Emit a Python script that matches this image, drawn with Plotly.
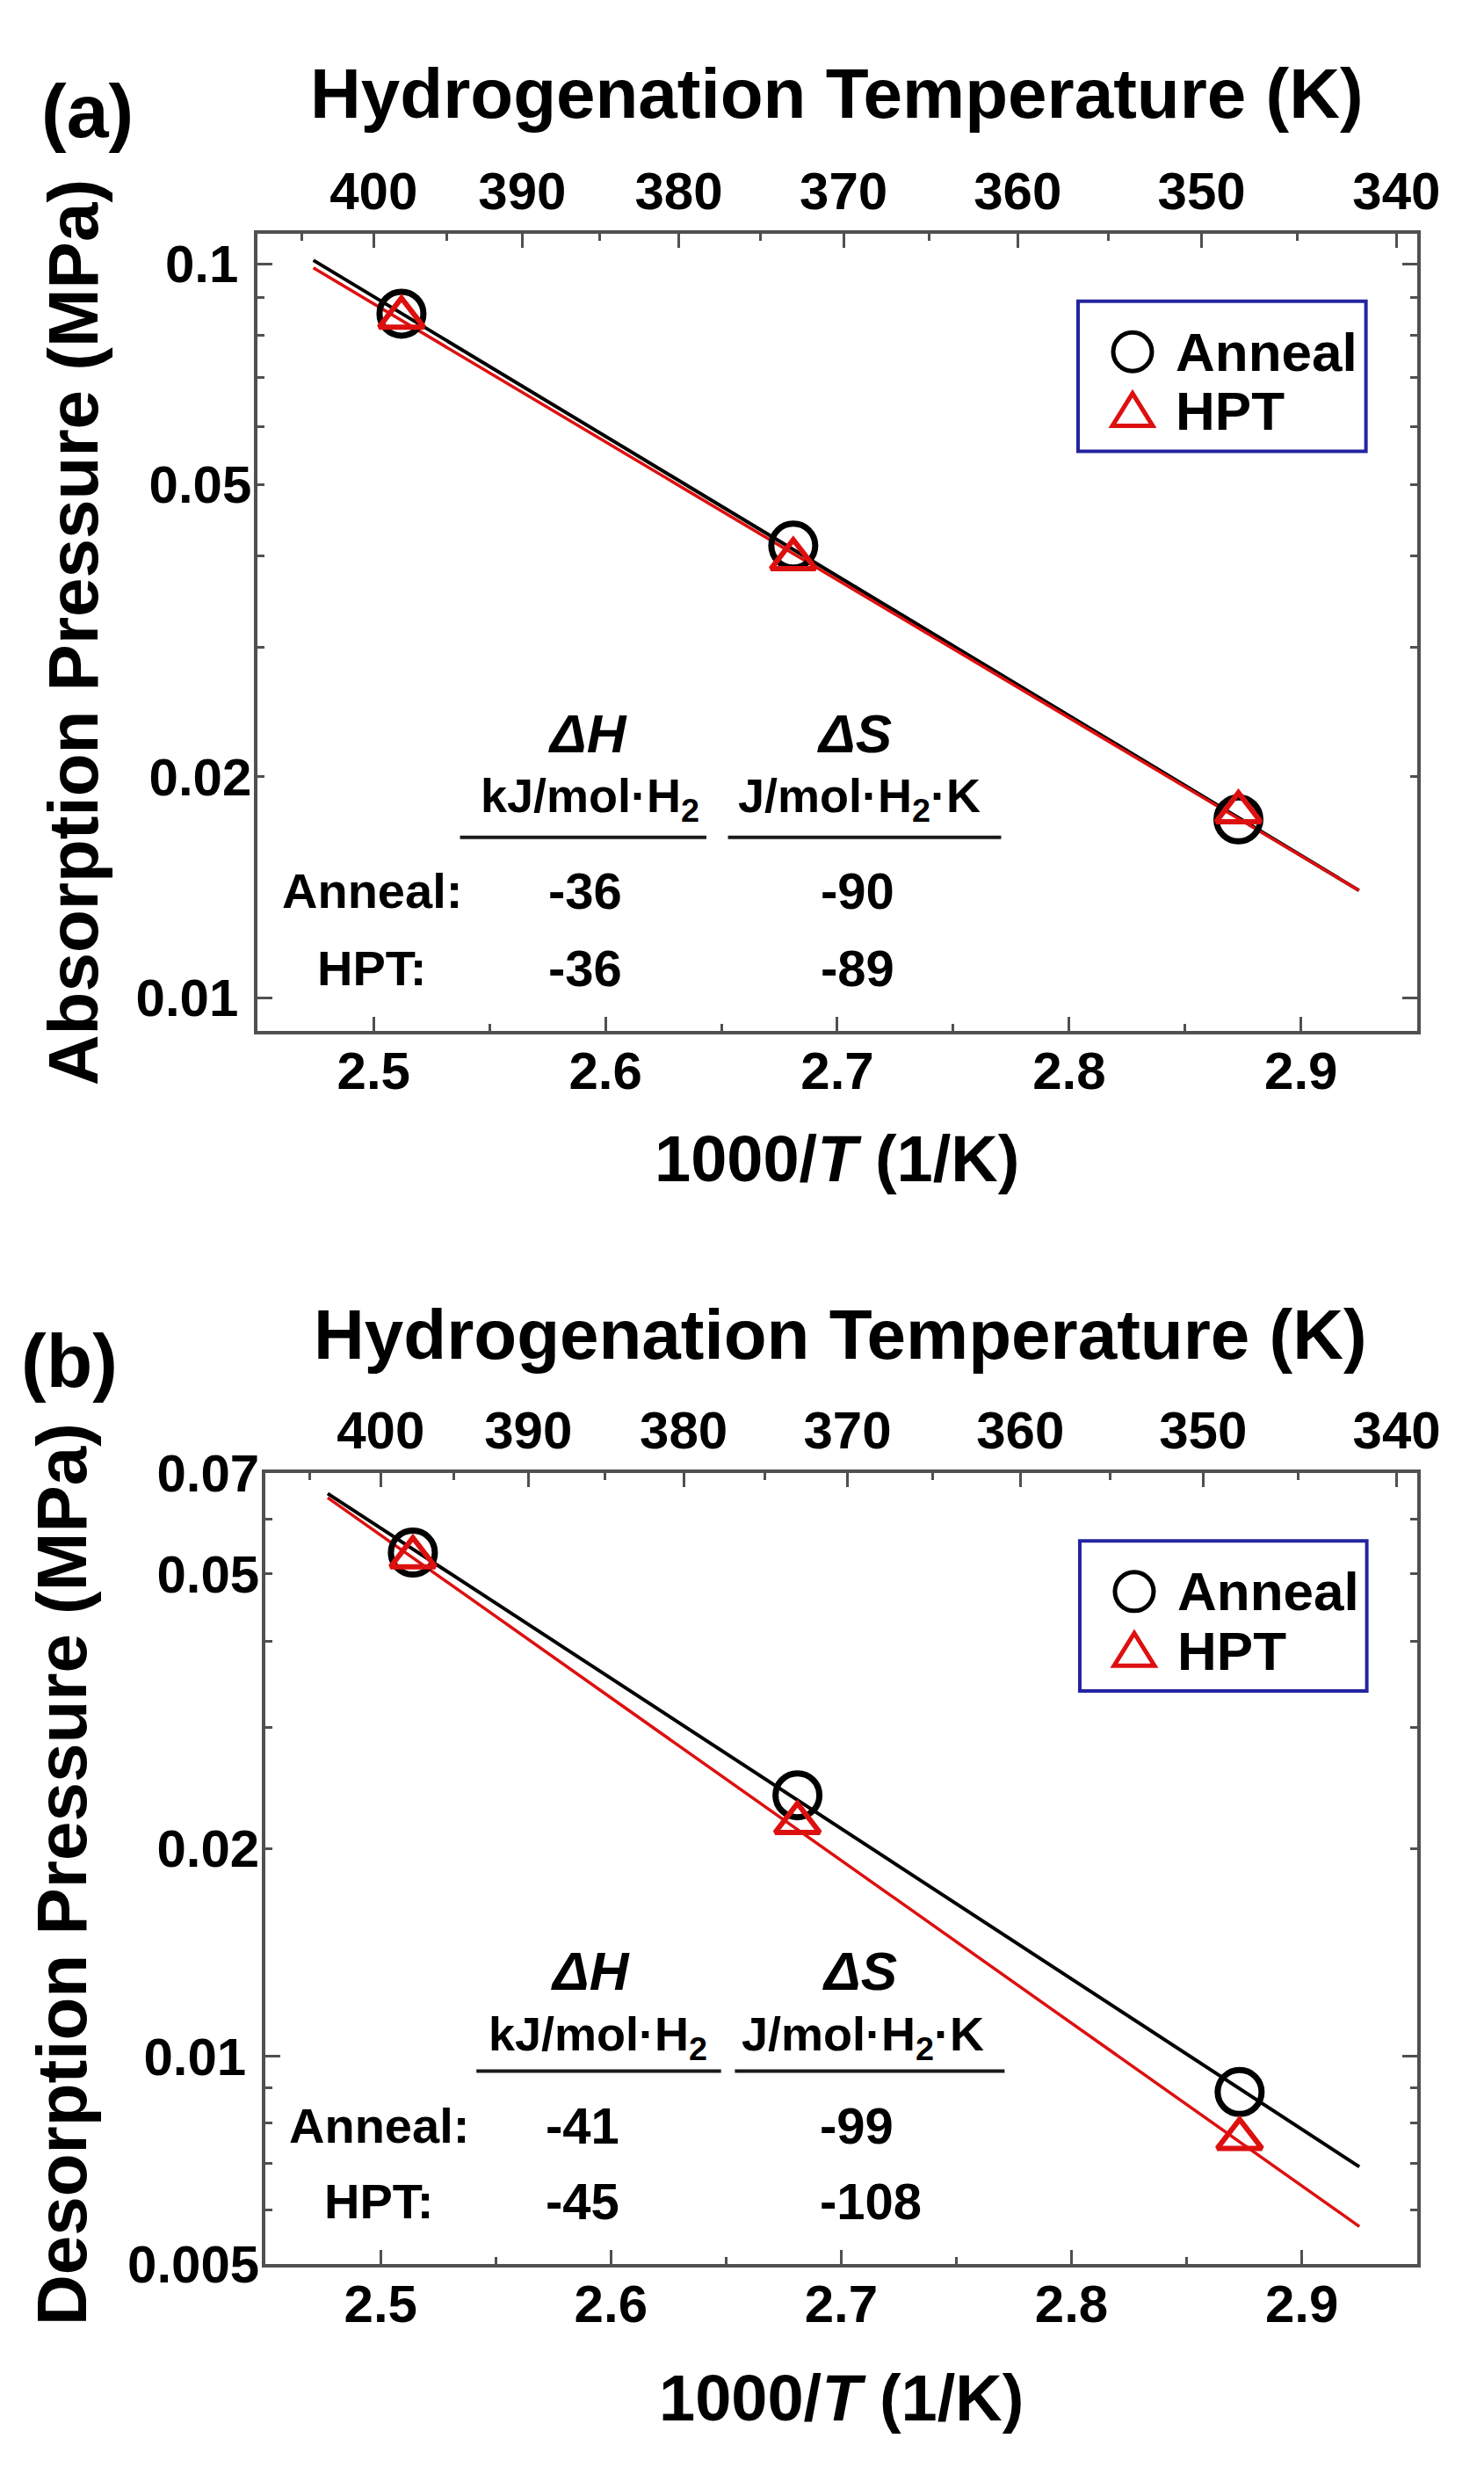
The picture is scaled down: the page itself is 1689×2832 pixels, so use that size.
import math
import plotly.graph_objects as go

# ---- data: x = 1000/T (1/K), y = pressure (MPa) ----
inv_t_abs = [2.512, 2.681, 2.873]
p_abs_anneal = [0.0855, 0.0413, 0.0175]
p_abs_hpt = [0.0845, 0.0396, 0.0179]
fit_x_abs = [2.474, 2.925]
fit_abs_anneal = [0.1011, 0.0140]
fit_abs_hpt = [0.0987, 0.0140]

inv_t_des = [2.514, 2.681, 2.873]
p_des_anneal = [0.0537, 0.0239, 0.00888]
p_des_hpt = [0.0529, 0.0218, 0.0076]
fit_x_des = [2.477, 2.925]
fit_des_anneal = [0.0654, 0.00692]
fit_des_hpt = [0.0645, 0.00567]

# thermodynamic table
row_names = ["Anneal:", "HPT:"]
dh_abs = ["-36", "-36"]
ds_abs = ["-90", "-89"]
dh_des = ["-41", "-45"]
ds_des = ["-99", "-108"]

# axis ticks
x_ticks = [2.5, 2.6, 2.7, 2.8, 2.9]
x_minor = [2.55, 2.65, 2.75, 2.85]
temp_ticks = [400, 390, 380, 370, 360, 350, 340]
temp_minor = [405, 395, 385, 375, 365, 355, 345]
abs_major = [0.01, 0.1]
abs_labels = [0.02, 0.05]
abs_minor = [0.02, 0.03, 0.04, 0.05, 0.06, 0.07, 0.08, 0.09]
des_major = [0.01]
des_labels = [0.005, 0.02, 0.05, 0.07]
des_minor = [0.006, 0.007, 0.008, 0.009, 0.02, 0.03, 0.04, 0.05, 0.06]

W, H, OFF = 1673, 2816, 8
FONT = "Arial, Liberation Sans, sans-serif"
RED = "#dd1010"
FRAME = "#505050"
BLUE = "#2424a0"


def fx(p):
    return (p - OFF) / W


def fy(p):
    return 1 - (p - OFF) / H


def fmt(v):
    return ("%g" % v)


panels = [
    dict(tag="(a)", ylabel="Absorption Pressure (MPa)",
         frame=(298, 1639, 238, 1168), lab=(101, 95), title=(968, 75),
         ytitle=(85, 703), xtitle=(968, 1317),
         legbox=(1247, 317, 1580, 492), legsym=1310, legtext=1358, legy=(376, 445),
         head_y=821, unit_y=897, head_x=(680, 988), unit_x=(682, 994),
         line_y=942, line1=(532, 817), line2=(842, 1158),
         row_x=430, row_y=(1004, 1094), dh_x=632, ds_x=947,
         x=inv_t_abs, anneal=p_abs_anneal, hpt=p_abs_hpt,
         fx_=fit_x_abs, fa=fit_abs_anneal, fh=fit_abs_hpt,
         yr=(0.009, 0.11), major=abs_major, labels=abs_labels, minor=abs_minor,
         dh=dh_abs, ds=ds_abs),
    dict(tag="(b)", ylabel="Desorption Pressure (MPa)",
         frame=(307, 1639, 1683, 2605), lab=(80, 1552), title=(972, 1521),
         ytitle=(71, 2150), xtitle=(973, 2761),
         legbox=(1249, 1762, 1581, 1937), legsym=1312, legtext=1360, legy=(1821, 1890),
         head_y=2263, unit_y=2340, head_x=(683, 994), unit_x=(692, 998),
         line_y=2380, line1=(551, 834), line2=(850, 1162),
         row_x=438, row_y=(2443, 2532), dh_x=629, ds_x=946,
         x=inv_t_des, anneal=p_des_anneal, hpt=p_des_hpt,
         fx_=fit_x_des, fa=fit_des_anneal, fh=fit_des_hpt,
         yr=(0.005, 0.07), major=des_major, labels=des_labels, minor=des_minor,
         dh=dh_des, ds=ds_des),
]

fig = go.Figure()
layout = dict(width=W, height=H, margin=dict(l=0, r=0, t=0, b=0),
              paper_bgcolor="white", plot_bgcolor="white", showlegend=False,
              font=dict(family=FONT, color="black", weight="bold"))
annotations = []
shapes = []

tick_font = dict(family=FONT, size=60, color="black", weight="bold")
axis_common = dict(showgrid=False, zeroline=False, showline=True, linecolor=FRAME,
                   linewidth=4, ticks="inside", tickcolor=FRAME, tickwidth=3,
                   tickfont=tick_font)

for i, p in enumerate(panels):
    n = 2 * i + 1
    xb, xt = "x%d" % n, "x%d" % (n + 1)
    ym, yl = "y%d" % n, "y%d" % (n + 1)
    xb_key = "xaxis" if n == 1 else "xaxis%d" % n
    ym_key = "yaxis" if n == 1 else "yaxis%d" % n
    xb_ref = "x" if n == 1 else xb
    ym_ref = "y" if n == 1 else ym
    l, r, t, b = p["frame"]
    yrange = [math.log10(p["yr"][0]), math.log10(p["yr"][1])]

    # fitted lines and points
    fig.add_trace(go.Scatter(x=p["fx_"], y=p["fa"], mode="lines",
                             line=dict(color="black", width=4),
                             xaxis=xb_ref, yaxis=ym_ref))
    fig.add_trace(go.Scatter(x=p["fx_"], y=p["fh"], mode="lines",
                             line=dict(color=RED, width=3.5),
                             xaxis=xb_ref, yaxis=ym_ref))
    fig.add_trace(go.Scatter(x=p["x"], y=p["anneal"], mode="markers", name="Anneal",
                             marker=dict(symbol="circle-open", size=50, color="black",
                                         line=dict(width=7)),
                             xaxis=xb_ref, yaxis=ym_ref))
    fig.add_trace(go.Scatter(x=p["x"], y=p["hpt"], mode="markers", name="HPT",
                             marker=dict(symbol="triangle-up-open", size=44, color=RED,
                                         line=dict(width=6)),
                             xaxis=xb_ref, yaxis=ym_ref))
    # empty traces to hold the top temperature axis and the extra label axis
    fig.add_trace(go.Scatter(x=[], y=[], xaxis=xt, yaxis=ym_ref, hoverinfo="skip"))
    fig.add_trace(go.Scatter(x=[], y=[], xaxis=xb_ref, yaxis=yl, hoverinfo="skip"))

    layout[xb_key] = dict(axis_common, domain=[fx(l), fx(r)], anchor=ym_ref,
                          range=[2.45, 2.95], tickvals=x_ticks,
                          ticktext=[fmt(v) for v in x_ticks], ticklen=16,
                          ticklabelstandoff=-10,
                          minor=dict(tickvals=x_minor, ticks="inside", ticklen=8,
                                     tickwidth=3, tickcolor=FRAME))
    layout["xaxis%d" % (n + 1)] = dict(axis_common, overlaying=xb_ref, anchor=ym_ref,
                                       side="top", range=[2.45, 2.95],
                                       tickvals=[1000 / v for v in temp_ticks],
                                       ticktext=[str(v) for v in temp_ticks], ticklen=16,
                                       minor=dict(tickvals=[1000 / v for v in temp_minor],
                                                  ticks="inside", ticklen=8, tickwidth=3,
                                                  tickcolor=FRAME))
    layout[ym_key] = dict(axis_common, domain=[fy(b), fy(t)], anchor=xb_ref,
                          type="log", range=yrange, mirror="ticks",
                          tickvals=p["major"], ticktext=[fmt(v) for v in p["major"]],
                          ticklen=17, ticklabelstandoff=6,
                          minor=dict(tickvals=p["minor"], ticks="inside", ticklen=8,
                                     tickwidth=3, tickcolor=FRAME))
    layout["yaxis%d" % (n + 1)] = dict(overlaying=ym_ref, anchor=xb_ref, side="left",
                                       type="log", range=yrange, showline=False,
                                       showgrid=False, zeroline=False, ticks="",
                                       tickvals=p["labels"], ticklabelstandoff=6,
                                       ticktext=[fmt(v) for v in p["labels"]],
                                       tickfont=tick_font)

    def note(text, x, y, size, xanchor="center", angle=0):
        annotations.append(dict(text=text, x=fx(x), y=fy(y), xref="paper", yref="paper",
                                xanchor=xanchor, yanchor="middle", showarrow=False,
                                textangle=angle,
                                font=dict(family=FONT, size=size, color="black",
                                          weight="bold")))

    note(p["tag"], p["lab"][0], p["lab"][1], 86)
    note("Hydrogenation Temperature (K)", p["title"][0], p["title"][1], 80)
    note(p["ylabel"], p["ytitle"][0], p["ytitle"][1], 80, angle=-90)
    note("1000/<i>T</i> (1/K)", p["xtitle"][0], p["xtitle"][1], 74)

    # legend
    x0, y0, x1, y1 = p["legbox"]
    shapes.append(dict(type="rect", xref="paper", yref="paper", x0=fx(x0), x1=fx(x1),
                       y0=fy(y1), y1=fy(y0), line=dict(color=BLUE, width=4),
                       fillcolor="white", layer="above"))
    shapes.append(dict(type="circle", xref="paper", yref="paper", xsizemode="pixel",
                       ysizemode="pixel", xanchor=fx(p["legsym"]), yanchor=fy(p["legy"][0]),
                       x0=-22, x1=22, y0=-22, y1=22, line=dict(color="black", width=5),
                       layer="above"))
    shapes.append(dict(type="path", xref="paper", yref="paper", xsizemode="pixel",
                       ysizemode="pixel", xanchor=fx(p["legsym"]), yanchor=fy(p["legy"][1]),
                       path="M -23,-17 L 23,-17 L 0,20 Z", line=dict(color=RED, width=5),
                       layer="above"))
    note("Anneal", p["legtext"], p["legy"][0], 62, xanchor="left")
    note("HPT", p["legtext"], p["legy"][1], 62, xanchor="left")

    # thermodynamic table
    note("<i>\u0394H</i>", p["head_x"][0], p["head_y"], 62)
    note("<i>\u0394S</i>", p["head_x"][1], p["head_y"], 62)
    note("kJ/mol\u00b7H<sub>2</sub>", p["unit_x"][0], p["unit_y"], 54)
    note("J/mol\u00b7H<sub>2</sub>\u00b7K", p["unit_x"][1], p["unit_y"], 54)
    for lx0, lx1 in (p["line1"], p["line2"]):
        shapes.append(dict(type="line", xref="paper", yref="paper", x0=fx(lx0), x1=fx(lx1),
                           y0=fy(p["line_y"]), y1=fy(p["line_y"]),
                           line=dict(color="#1a1a1a", width=4)))
    for k, name in enumerate(row_names):
        note(name, p["row_x"], p["row_y"][k], 56)
        note(p["dh"][k], p["dh_x"], p["row_y"][k], 58, xanchor="left")
        note(p["ds"][k], p["ds_x"], p["row_y"][k], 58, xanchor="left")

layout["annotations"] = annotations
layout["shapes"] = shapes
fig.update_layout(**layout)
fig.write_html("out.html")
